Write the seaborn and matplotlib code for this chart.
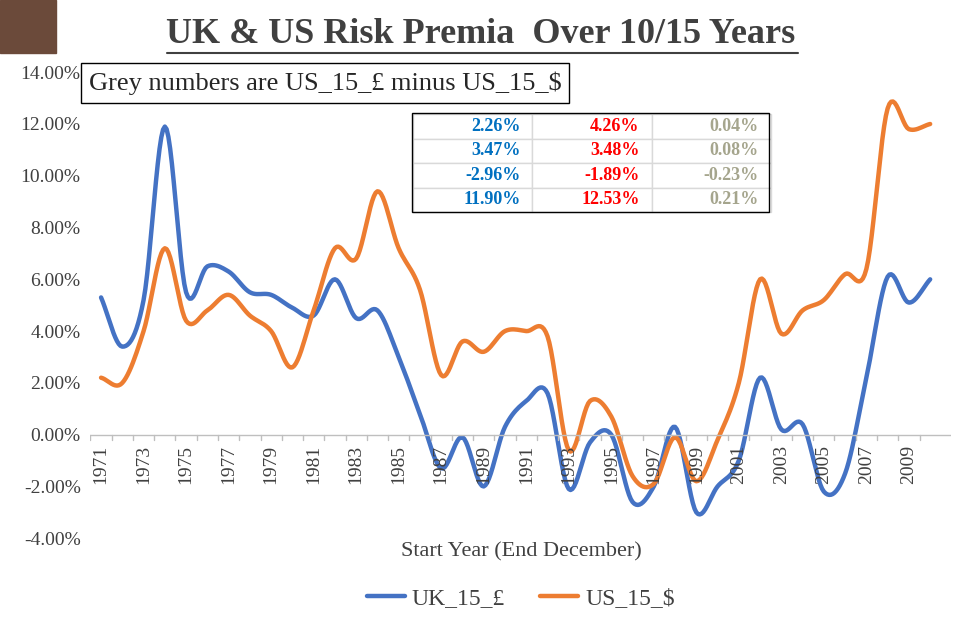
import numpy as np
import matplotlib.pyplot as plt
import seaborn as sns

years = list(range(1971, 2011))
uk_15 = [5.3, 3.4, 5.2, 11.9, 5.5, 6.5, 6.3, 5.5, 5.4, 4.9, 4.6, 6.0, 4.5, 4.8, 3.0, 0.8,
         -1.3, -0.1, -2.0, 0.3, 1.3, 1.6, -2.1, -0.3, 0.0, -2.6, -2.0, 0.3, -3.0, -2.0,
         -1.0, 2.2, 0.2, 0.4, -2.2, -1.5, 2.2, 6.1, 5.1, 6.0]
us_15 = [2.2, 2.0, 4.0, 7.2, 4.4, 4.8, 5.4, 4.6, 4.0, 2.6, 4.8, 7.2, 6.8, 9.4, 7.2, 5.6,
         2.3, 3.6, 3.2, 4.0, 4.0, 3.8, -0.6, 1.3, 0.7, -1.6, -1.9, -0.1, -1.8, -0.2,
         2.0, 6.0, 3.9, 4.8, 5.2, 6.2, 6.4, 12.6, 11.8, 12.0]
table_rows = [["2.26%", "4.26%", "0.04%"],
              ["3.47%", "3.48%", "0.08%"],
              ["-2.96%", "-1.89%", "-0.23%"],
              ["11.90%", "12.53%", "0.21%"]]

BLUE = "#4472C4"
ORANGE = "#ED7D31"


def smooth(x, y, n=12):
    # Catmull-Rom curve through the points, like Excel's smoothed lines
    x = np.asarray(x, float); y = np.asarray(y, float)
    px = np.concatenate([[2 * x[0] - x[1]], x, [2 * x[-1] - x[-2]]])
    py = np.concatenate([[2 * y[0] - y[1]], y, [2 * y[-1] - y[-2]]])
    t = np.linspace(0, 1, n, endpoint=False)
    ox, oy = [], []
    for i in range(1, len(px) - 2):
        for arr, out in ((px, ox), (py, oy)):
            p0, p1, p2, p3 = arr[i - 1:i + 3]
            out.extend(0.5 * (2 * p1 + (-p0 + p2) * t + (2 * p0 - 5 * p1 + 4 * p2 - p3) * t ** 2
                              + (-p0 + 3 * p1 - 3 * p2 + p3) * t ** 3))
    ox.append(x[-1]); oy.append(y[-1])
    return np.array(ox), np.array(oy)


sns.set_style("white")
plt.rcParams['font.family'] = ['Liberation Serif', 'DejaVu Serif']

fig = plt.figure(figsize=(9.62, 6.28), dpi=100)
ax = fig.add_axes([0.094, 0.143, 0.895, 0.742])

for vals, col, lab in ((uk_15, BLUE, "UK_15_£"), (us_15, ORANGE, "US_15_$")):
    sx, sy = smooth(years, vals)
    sns.lineplot(x=sx, y=sy, ax=ax, color=col, lw=3.2, label=lab, sort=False)

ax.set_xlim(1970.5, 2011)
ax.set_ylim(-4, 14)
ax.set_yticks(np.arange(-4, 15, 2))
ax.set_yticklabels([f"{v:.2f}%" for v in np.arange(-4, 15, 2)], fontsize=14, color="#404040")
for s in ax.spines.values():
    s.set_visible(False)
ax.axhline(0, color="#BFBFBF", lw=1)
ax.set_xticks([])
for yr in years:
    ax.plot([yr - 0.5, yr - 0.5], [0, -0.2], color="#BFBFBF", lw=1)
for yr in years[::2]:
    ax.text(yr, -0.4, str(yr), rotation=90, ha="center", va="top", fontsize=14, color="#404040")
ax.text(0.5, -0.03, "Start Year (End December)", transform=ax.transAxes, ha="center",
        va="center", fontsize=16, color="#404040")

leg = ax.legend(loc="center", bbox_to_anchor=(0.5, -0.13), ncol=2, frameon=False,
                fontsize=17, handlelength=1.6, handletextpad=0.3, columnspacing=1.5)
for t in leg.get_texts():
    t.set_color("#404040")

fig.text(0.5, 0.945, "UK & US Risk Premia  Over 10/15 Years", ha="center", va="center",
         fontsize=26, fontweight="bold", color="#404040")
fig.add_artist(plt.Line2D([0.174, 0.83], [0.915, 0.915], color="#404040", lw=1.5))
fig.add_artist(plt.Rectangle((0.0, 0.915), 0.058, 0.085, color="#6B4A3A"))

fig.text(0.092, 0.868, "Grey numbers are US_15_£ minus US_15_$", fontsize=19, va="center",
         bbox=dict(boxstyle="square,pad=0.3", fc="white", ec="black", lw=1))

colors = ["#0070C0", "#FF0000", "#A5A58D"]
tab = ax.table(cellText=table_rows, cellLoc="right",
               bbox=[0.375, 0.70, 0.415, 0.21])
for (r, c), cell in tab.get_celld().items():
    cell.set_edgecolor("#D9D9D9")
    cell.set_text_props(color=colors[c], fontweight="bold", fontsize=13)
tab.auto_set_font_size(False)
fig.add_artist(plt.Rectangle((0.428, 0.663), 0.371, 0.157, fill=False, ec="black", lw=1,
                             transform=fig.transFigure))

fig.savefig("out.png", dpi=100)
